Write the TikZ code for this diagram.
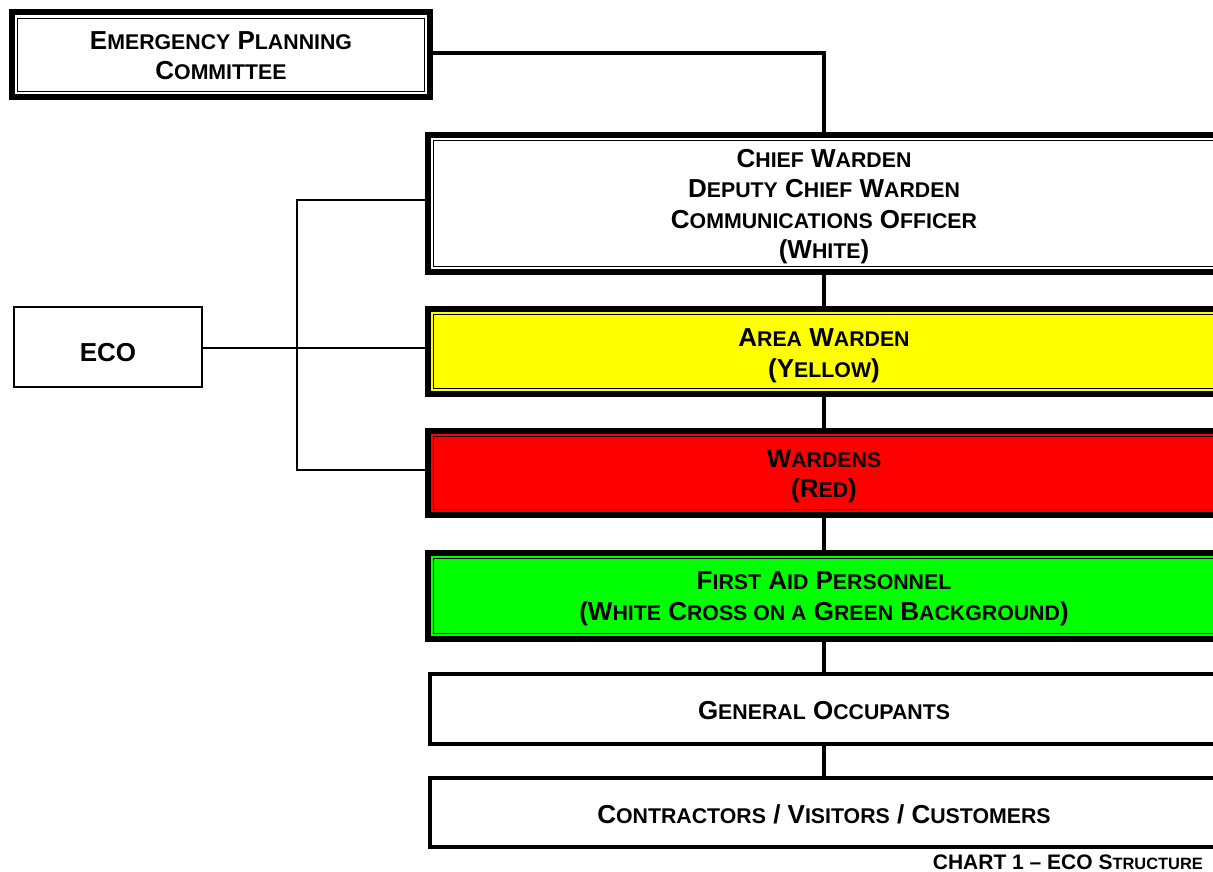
\documentclass[tikz,border=0pt]{standalone}
\usepackage{fontspec}
\setmainfont{Liberation Sans}
\newcommand\mainsz{\fontsize{26}{30.5}\selectfont}
\newcommand\smc[1]{{\fontsize{21.3}{30.5}\selectfont #1}}
\newcommand\capsz{\fontsize{21}{25}\selectfont}
\newcommand\csmc[1]{{\fontsize{16.4}{25}\selectfont #1}}
% invisible struts that fix where the text block sits inside its box
\newcommand\hstrut[1]{\rule{0pt}{#1pt}}
\newcommand\dstrut{\rule[-6pt]{0pt}{6pt}}
\newcommand\ostrut[1]{\rule[-6pt]{0pt}{#1pt}}
\begin{document}
\begin{tikzpicture}[x=1pt,y=-1pt,
  dblbox/.style={draw, line width=6pt, inner sep=0pt, outer sep=0pt, align=center,
    font=\bfseries\mainsz,
    path picture={\draw[line width=1.3pt]
      ([xshift=5.7pt,yshift=-5.7pt]path picture bounding box.north west) rectangle
      ([xshift=-5.7pt,yshift=5.7pt]path picture bounding box.south east);}},
  sglbox/.style={draw, line width=4pt, inner sep=0pt, outer sep=0pt, align=center,
    font=\bfseries\mainsz},
  thinbox/.style={draw, line width=2pt, inner sep=0pt, outer sep=0pt, align=center,
    font=\bfseries\mainsz},
  conn/.style={line width=3.5pt},
  tconn/.style={line width=2pt}]
\useasboundingbox (0,0) rectangle (1213,872);
\clip (0,0) rectangle (1213,872);
\fill[white] (0,0) rectangle (1213,872);

\node[dblbox, fill=white, minimum width=418pt, minimum height=84.5pt, font=\bfseries\fontsize{26}{30}\selectfont] (epc) at (221,54.75)
  {\hstrut{25.1}E\smc{MERGENCY} P\smc{LANNING}\\C\smc{OMMITTEE}\dstrut};
\node[dblbox, fill=white, minimum width=792pt, minimum height=137pt] (chief) at (824,203.5)
  {\hstrut{25.1}C\smc{HIEF} W\smc{ARDEN}\\D\smc{EPUTY} C\smc{HIEF} W\smc{ARDEN}\\C\smc{OMMUNICATIONS} O\smc{FFICER}\\(W\smc{HITE})\dstrut};
\node[dblbox, fill={rgb,255:red,255;green,255;blue,0}, minimum width=792pt, minimum height=85pt] (yellow) at (824,351.5)
  {\hstrut{26.9}A\smc{REA} W\smc{ARDEN}\\(Y\smc{ELLOW})\dstrut};
\node[dblbox, fill={rgb,255:red,255;green,0;blue,0}, minimum width=792pt, minimum height=84pt] (red) at (824,473)
  {\hstrut{25.1}W\smc{ARDENS}\\(R\smc{ED})\dstrut};
\node[dblbox, fill={rgb,255:red,0;green,255;blue,0}, minimum width=792pt, minimum height=86pt] (green) at (824,596)
  {\hstrut{24}F\smc{IRST} A\smc{ID} P\smc{ERSONNEL}\\(W\smc{HITE} C\smc{ROSS ON A} G\smc{REEN} B\smc{ACKGROUND})\dstrut};
\node[sglbox, fill=white, minimum width=788pt, minimum height=70pt] (gen) at (824,709)
  {\ostrut{32.6}G\smc{ENERAL} O\smc{CCUPANTS}};
\node[sglbox, fill=white, minimum width=788pt, minimum height=69pt] (con) at (824,812.5)
  {\ostrut{33.6}C\smc{ONTRACTORS} / V\smc{ISITORS} / C\smc{USTOMERS}};
\node[thinbox, fill=white, minimum width=188pt, minimum height=80pt] (eco) at (108,347)
  {\ostrut{41.4}ECO};

\node[anchor=base east, inner sep=0pt, font=\bfseries\capsz] (cap) at (1203,869.5)
  {CHART 1 – ECO S\csmc{TRUCTURE}};

\draw[conn] (epc.east |- 0,53) -| (chief.north);
\draw[conn] (chief.south) -- (yellow.north);
\draw[conn] (yellow.south) -- (red.north);
\draw[conn] (red.south) -- (green.north);
\draw[conn] (green.south) -- (gen.north);
\draw[conn] (gen.south) -- (con.north);

\coordinate (jt) at (297,200);
\coordinate (jb) at (297,470);
\draw[tconn] (eco.east |- 0,348) -- (yellow.west |- 0,348);
\draw[tconn] (chief.west |- jt) -- (jt) -- (jb) -- (red.west |- jb);
\end{tikzpicture}
\end{document}
